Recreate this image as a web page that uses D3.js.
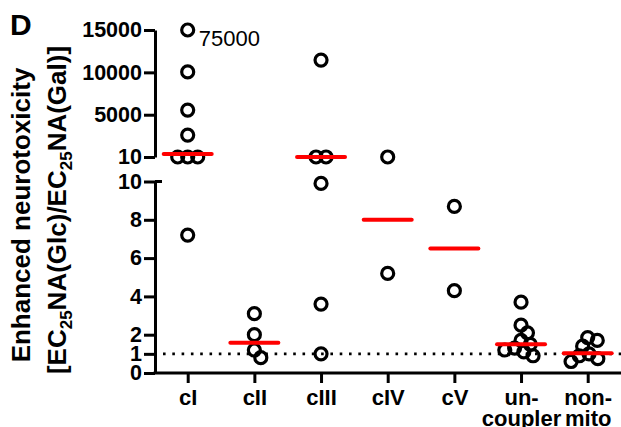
<!DOCTYPE html>
<html>
<head>
<meta charset="utf-8">
<script src="https://cdn.jsdelivr.net/npm/d3@7"></script>
<style>
  body { margin: 0; background: #fff; }
  text { font-family: "Liberation Sans", Arial, sans-serif; }
</style>
</head>
<body>
<svg id="chart" width="621" height="427"></svg>
<script>
// categories and their (possibly two-line) tick labels
const groups = ["cI", "cII", "cIII", "cIV", "cV", "uncoupler", "nonmito"];
const groupLabels = [["cI"], ["cII"], ["cIII"], ["cIV"], ["cV"], ["un-", "coupler"], ["non-", "mito"]];

// ratio values, one array per group
const cI = [75000, 10050, 5550, 2600, 10, 10, 10, 7.2];
const cII = [3.1, 2.0, 1.2, 0.8];
const cIII = [11450, 10.4, 10.2, 9.9, 3.6, 1.0];
const cIV = [10.8, 5.2];
const cV = [8.7, 4.3];
const uncoupler = [3.7, 2.5, 2.1, 1.7, 1.5, 1.3, 1.2, 1.1, 0.9];
const nonmito = [1.85, 1.7, 1.4, 1.0, 0.9, 0.75, 0.6];
const medians = [350, 1.58, 10.3, 8.0, 6.5, 1.5, 1.03];

const topTicks = [10, 5000, 10000, 15000];
const bottomTicks = [0, 1, 2, 4, 6, 8, 10];
const topMax = 15000;       // values above this sit on the top edge with their value written
const threshold = 1;        // dotted reference line

const seriesValues = [cI, cII, cIII, cIV, cV, uncoupler, nonmito];

var svg = d3.select("#chart");

var x = d3.scalePoint().domain(groups).range([187.7, 587.7]);
var yTop = d3.scaleLinear().domain([10, topMax]).range([157, 30]);
var yBot = d3.scaleLinear().domain([0, 10]).range([373, 181.5]);

function yOf(v) {
  return v >= 10 ? yTop(Math.min(v, topMax)) : yBot(v);
}

// simple greedy beeswarm so equal values sit side by side
var gap = 10;
function swarm(values, cx) {
  var placed = [];
  values.forEach(function(v) {
    var p = { v: v, y: yOf(v), x: cx };
    var hits = placed.filter(q => Math.abs(q.y - p.y) < gap);
    var best = 0;
    if (hits.length) {
      var cands = [0];
      hits.forEach(function(q) {
        var dx = Math.sqrt(gap * gap - (q.y - p.y) * (q.y - p.y));
        cands.push(q.x - cx + dx, q.x - cx - dx);
      });
      cands.sort((a, b) => Math.abs(a) - Math.abs(b));
      best = cands.find(c =>
        hits.every(q => Math.hypot(q.x - (cx + c), q.y - p.y) >= gap - 0.01)
      );
    }
    p.x = cx + best;
    placed.push(p);
  });
  // centre rows of identical values on the category
  var rows = d3.group(placed, d => Math.round(d.y));
  rows.forEach(function(row) {
    if (row.length > 1) {
      var shift = d3.mean(row, d => d.x) - cx;
      row.forEach(d => (d.x -= shift));
    }
  });
  return placed;
}

// title letter
svg.append("text")
  .attr("x", 10)
  .attr("y", 35)
  .attr("font-size", 30)
  .attr("font-weight", "bold")
  .text("D");

// y axis title, two rotated lines
var ylab = svg.append("g").attr("font-weight", "bold").attr("font-size", 26);
ylab.append("text")
  .attr("transform", "rotate(-90)")
  .attr("x", -215)
  .attr("y", 30)
  .attr("text-anchor", "middle")
  .text("Enhanced neurotoxicity");

var l2 = ylab.append("text")
  .attr("transform", "rotate(-90)")
  .attr("x", -210)
  .attr("y", 66)
  .attr("text-anchor", "middle");
[["[EC", 0], ["25", 1], ["NA(Glc)/EC", -1], ["25", 1], ["NA(Gal)]", -1]].forEach(function(p) {
  var t = l2.append("tspan").text(p[0]);
  if (p[1] == 1) t.attr("font-size", 17).attr("dy", 6);
  if (p[1] == -1) t.attr("dy", -6);
});

// dotted reference line at ratio 1
svg.append("line")
  .attr("x1", 163)
  .attr("x2", 621)
  .attr("y1", yBot(threshold))
  .attr("y2", yBot(threshold))
  .attr("stroke", "#000")
  .attr("stroke-width", 2.6)
  .attr("stroke-dasharray", "2.6,6.7");

function styleAxis(g) {
  g.selectAll("path.domain").attr("stroke-width", 3);
  g.selectAll(".tick line").attr("stroke-width", 3);
  g.selectAll(".tick text")
    .attr("font-size", 21.5)
    .attr("font-weight", "bold")
    .attr("fill", "#000")
    .attr("font-family", "Liberation Sans, Arial, sans-serif");
}

// top y segment
svg.append("g")
  .attr("transform", "translate(155,0)")
  .call(d3.axisLeft(yTop).tickValues(topTicks).tickSize(11).tickSizeOuter(0).tickPadding(2).tickFormat(d3.format("d")))
  .call(styleAxis);

// bottom y segment
var gb = svg.append("g")
  .attr("transform", "translate(155,0)")
  .call(d3.axisLeft(yBot).tickValues(bottomTicks).tickSize(11).tickSizeOuter(0).tickPadding(2).tickFormat(d3.format("d")))
  .call(styleAxis);
// the top end of the lower segment gets a crossing cap
gb.append("line")
  .attr("x1", 0).attr("x2", 7)
  .attr("y1", yBot(10)).attr("y2", yBot(10))
  .attr("stroke", "#000").attr("stroke-width", 3);

// x axis
var gx = svg.append("g")
  .attr("transform", "translate(0," + yBot(0) + ")")
  .call(d3.axisBottom(x).tickSize(10).tickSizeOuter(0).tickFormat(""));
gx.select("path.domain").attr("d", "M153.5,0H621");
gx.call(styleAxis);
gx.selectAll(".tick").each(function(d, i) {
  var t = d3.select(this).append("text")
    .attr("text-anchor", "middle")
    .attr("font-size", 22)
    .attr("font-weight", "bold")
    .attr("fill", "#000");
  groupLabels[i].forEach(function(s, j) {
    t.append("tspan").attr("x", 0).attr("y", 32 + j * 20.5).text(s);
  });
});

// points
seriesValues.forEach(function(vals, i) {
  var pts = swarm(vals, x(groups[i]));
  var g = svg.append("g");
  g.selectAll("circle")
    .data(pts)
    .enter()
    .append("circle")
    .attr("cx", d => d.x)
    .attr("cy", d => d.y)
    .attr("r", 6)
    .attr("fill", "none")
    .attr("stroke", "#000")
    .attr("stroke-width", 3.2);
  // off-scale values get their number written beside them
  g.selectAll("text")
    .data(pts.filter(d => d.v > topMax))
    .enter()
    .append("text")
    .attr("x", d => d.x + 11)
    .attr("y", d => d.y + 16)
    .attr("font-size", 22)
    .text(d => d.v);
});

// median bars
svg.append("g")
  .selectAll("line")
  .data(medians)
  .enter()
  .append("line")
  .attr("x1", (d, i) => x(groups[i]) - 24)
  .attr("x2", (d, i) => x(groups[i]) + 24)
  .attr("y1", d => yOf(d))
  .attr("y2", d => yOf(d))
  .attr("stroke", "#ff0000")
  .attr("stroke-width", 4)
  .attr("stroke-linecap", "round");
</script>
</body>
</html>
